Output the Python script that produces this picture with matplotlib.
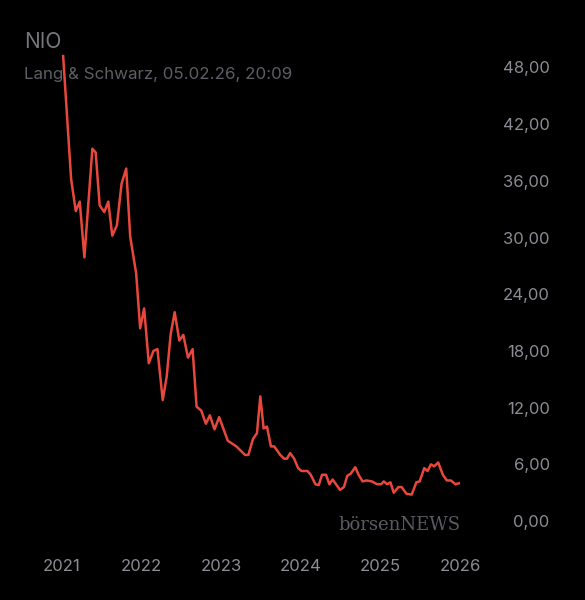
import numpy as np
import matplotlib.pyplot as plt

plt.rcParams['font.family'] = ['Inter', 'DejaVu Sans']

# months since Jan 2021, price in EUR
months = [0.2, 1.4, 2.1, 2.7, 3.4, 4.6, 5.1, 5.7, 6.4, 7.0, 7.6, 8.3, 9.0, 9.7,
          10.3, 11.2, 11.8, 12.4, 13.1, 13.8, 14.4, 15.2, 15.8, 16.4, 17.0, 17.7,
          18.3, 19.0, 19.7, 20.3, 21.0, 21.7, 22.3, 23.0, 23.7, 25.0, 26.3, 27.6,
          28.1, 28.8, 29.4, 29.9, 30.4, 30.9, 31.5, 32.0, 32.9, 33.5, 33.9, 34.4,
          35.0, 35.6, 36.1, 37.0, 37.5, 38.2, 38.7, 39.2, 39.8, 40.3, 40.8, 41.4,
          41.9, 42.5, 43.0, 43.5, 44.2, 44.7, 45.3, 45.9, 46.7, 47.5, 48.1, 48.5,
          49.0, 49.5, 50.0, 50.7, 51.2, 51.9, 52.7, 53.4, 53.9, 54.6, 55.1, 55.6,
          56.1, 56.7, 57.4, 58.0, 58.6, 59.3, 59.8]
prices = [49.2, 36.2, 32.8, 33.8, 27.9, 39.4, 39.0, 33.4, 32.7, 33.8, 30.2, 31.3,
          35.7, 37.3, 30.1, 26.2, 20.4, 22.5, 16.7, 18.0, 18.2, 12.8, 15.3, 19.8,
          22.1, 19.1, 19.7, 17.3, 18.2, 12.1, 11.7, 10.3, 11.2, 9.7, 11.0, 8.5,
          7.9, 7.0, 7.0, 8.7, 9.3, 13.2, 9.8, 10.0, 7.9, 7.9, 7.0, 6.6, 6.6, 7.2,
          6.6, 5.6, 5.3, 5.3, 4.9, 3.9, 3.8, 4.9, 4.9, 3.9, 4.4, 3.8, 3.3, 3.6,
          4.8, 5.0, 5.7, 4.9, 4.2, 4.3, 4.2, 3.9, 3.9, 4.2, 3.9, 4.1, 3.0, 3.6,
          3.6, 2.9, 2.8, 4.1, 4.2, 5.6, 5.3, 6.0, 5.8, 6.2, 4.9, 4.3, 4.3, 3.9, 4.0]

year_labels = ['2021', '2022', '2023', '2024', '2025', '2026']
yticks = [0, 6, 12, 18, 24, 30, 36, 42, 48]

grey = '#8c8c94'
fig = plt.figure(figsize=(5.85, 6), dpi=100, facecolor='black')
ax = fig.add_axes([20/585, 60/600, 470/585, 500/600], facecolor='black')
ax.plot(months, prices, color='#e8483b', lw=1.8)

ax.set_xlim(-6.3, 64.5)
ax.set_ylim(-2.0, 50.9)
ax.set_xticks([12*i for i in range(len(year_labels))])
ax.set_xticklabels(year_labels)
ax.set_yticks(yticks)
ax.set_yticklabels(['{:.2f}'.format(v).replace('.', ',') for v in yticks])
ax.yaxis.tick_right()
ax.tick_params(axis='y', length=0, pad=43, labelsize=12, labelcolor=grey)
for lab in ax.get_yticklabels():
    lab.set_horizontalalignment('right')
ax.tick_params(axis='x', length=0, pad=14, labelsize=12, labelcolor=grey)
for s in ax.spines.values():
    s.set_visible(False)

fig.text(24/585, 1 - 42/600, 'NIO', color='#75757c', fontsize=15, va='center')
fig.text(24/585, 1 - 75/600, 'Lang & Schwarz, 05.02.26, 20:09', color='#5e5e66',
         fontsize=12.2, va='center')
fig.text(338/585, 1 - 525/600, 'börsenNEWS', color='#5a5a66', fontsize=13,
         family='DejaVu Serif', va='center')

fig.savefig('out.png', dpi=100, facecolor='black')
